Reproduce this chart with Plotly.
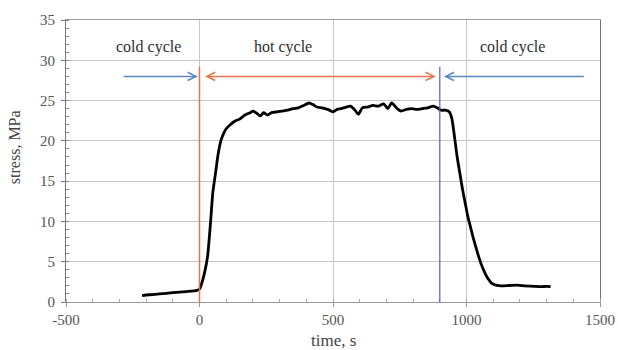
import plotly.graph_objects as go

# ---- data ----
time_s = [-215, -190, -150, -100, -50, -10, 0, 10, 20, 30, 40, 50, 60, 70, 80, 90, 100,
          115, 130, 150, 170, 190, 200, 215, 228, 240, 255, 270, 290, 310, 330, 350, 370,
          390, 410, 425, 440, 460, 480, 500, 515, 530, 550, 565, 580, 595, 610, 630, 650,
          670, 690, 705, 720, 740, 755, 775, 795, 815, 835, 855, 875, 890, 905, 920, 935,
          945, 955, 965, 975, 985, 995, 1005, 1015, 1025, 1035, 1045, 1055, 1065, 1075,
          1085, 1095, 1110, 1130, 1160, 1190, 1220, 1250, 1280, 1300, 1315]
stress_mpa = [0.8, 0.9, 1.0, 1.15, 1.3, 1.45, 1.6, 2.5, 3.8, 5.6, 9.3, 13.6, 16.0, 18.4, 20.0,
              20.9, 21.5, 22.0, 22.4, 22.7, 23.2, 23.5, 23.7, 23.4, 23.1, 23.5, 23.2, 23.5,
              23.6, 23.7, 23.8, 24.0, 24.1, 24.4, 24.7, 24.5, 24.2, 24.1, 23.9, 23.6, 23.9,
              24.0, 24.2, 24.3, 23.9, 23.3, 24.1, 24.2, 24.4, 24.3, 24.6, 24.0, 24.7, 24.0,
              23.7, 23.9, 24.0, 23.9, 24.0, 24.1, 24.3, 24.1, 23.8, 23.8, 23.6, 22.8, 20.5,
              18.0, 16.0, 14.0, 12.3, 10.6, 9.3, 8.0, 6.8, 5.7, 4.7, 3.9, 3.2, 2.7, 2.3, 2.1,
              2.0, 2.05, 2.1, 2.0, 1.95, 1.9, 1.95, 1.9]

x_ticks = [-500, 0, 500, 1000, 1500]
x_tick_labels = ["-500", "0", "500", "1000", "1500"]
y_ticks = [0, 5, 10, 15, 20, 25, 30, 35]

hot_start = 0
hot_end = 900
marker_top = 29.2
arrow_y = 28
cold_left_from = -290
cold_right_from = 1445
hot_arrow = [15, 885]
labels = ["cold cycle", "hot cycle", "cold cycle"]
label_x = [-190, 313, 1174]
label_y = 31.6

FONT = "Liberation Serif, Times New Roman, serif"
ORANGE = "#e8734f"
BLUE_ARROW = "#5b86c0"
BLUE_LINE = "#5a5ab8"
TXT = "#444444"

fig = go.Figure()
fig.add_trace(go.Scatter(x=time_s, y=stress_mpa, mode="lines",
                         line=dict(color="black", width=2.8, shape="spline", smoothing=0.6),
                         showlegend=False, hoverinfo="skip"))

# vertical markers
fig.add_shape(type="line", x0=hot_start, x1=hot_start, y0=0, y1=marker_top,
              line=dict(color=ORANGE, width=1.5))
fig.add_shape(type="line", x0=hot_end, x1=hot_end, y0=0, y1=marker_top,
              line=dict(color=BLUE_LINE, width=1.2))

# arrows
def arrow(x_from, x_to, color, both=False):
    fig.add_annotation(x=x_to, y=arrow_y, ax=x_from, ay=arrow_y, xref="x", yref="y",
                       axref="x", ayref="y", text="", showarrow=True, arrowhead=5,
                       arrowsize=1.1, arrowwidth=1.5, arrowcolor=color,
                       arrowside="end+start" if both else "end", startarrowhead=5,
                       startarrowsize=1.1)

arrow(cold_left_from, -6, BLUE_ARROW)
arrow(hot_arrow[0], hot_arrow[1], ORANGE, both=True)
arrow(cold_right_from, 915, BLUE_ARROW)

for t, xx in zip(labels, label_x):
    fig.add_annotation(x=xx, y=label_y, text=t, showarrow=False,
                       font=dict(family=FONT, size=16, color="#2e2e2e"))

# axis titles
fig.add_annotation(text="time, s", xref="paper", yref="paper", x=0.5, y=-0.135,
                   showarrow=False, yanchor="middle",
                   font=dict(family=FONT, size=17, color=TXT))
fig.add_annotation(text="stress, MPa", xref="paper", yref="paper", x=-0.095, y=0.55,
                   showarrow=False, textangle=-90, xanchor="center", yanchor="middle",
                   font=dict(family=FONT, size=16, color=TXT))

fig.update_layout(
    width=618, height=350,
    margin=dict(l=66, r=18, t=20, b=48),
    paper_bgcolor="white", plot_bgcolor="white",
    font=dict(family=FONT, size=15, color=TXT),
)
fig.update_xaxes(range=[-500, 1500], tickvals=x_ticks, ticktext=x_tick_labels,
                 automargin=False,
                 showgrid=True, gridcolor="#c8c8c8", gridwidth=1,
                 showline=True, linecolor="#999999", linewidth=1, mirror=True,
                 ticks="outside", ticklen=4, tickcolor="#999999",
                 minor=dict(dtick=100, ticks="inside", ticklen=3, tickcolor="#aaaaaa", showgrid=False),
                 zeroline=False,
                 tickfont=dict(family=FONT, size=15, color="#555555"))
fig.update_yaxes(range=[0, 35], tickvals=y_ticks,
                 automargin=False, ticklabelstandoff=3,
                 showgrid=True, gridcolor="#c8c8c8", gridwidth=1,
                 showline=True, linecolor="#777777", linewidth=1, mirror=True,
                 ticks="outside", ticklen=4, tickcolor="#777777",
                 minor=dict(dtick=1, ticks="inside", ticklen=3, tickcolor="#888888", showgrid=False),
                 zeroline=False,
                 tickfont=dict(family=FONT, size=15, color="#555555"))

fig.write_html("out.html", config={"displayModeBar": False},
               post_script="document.body.style.margin='0';document.body.style.overflow='hidden';")
